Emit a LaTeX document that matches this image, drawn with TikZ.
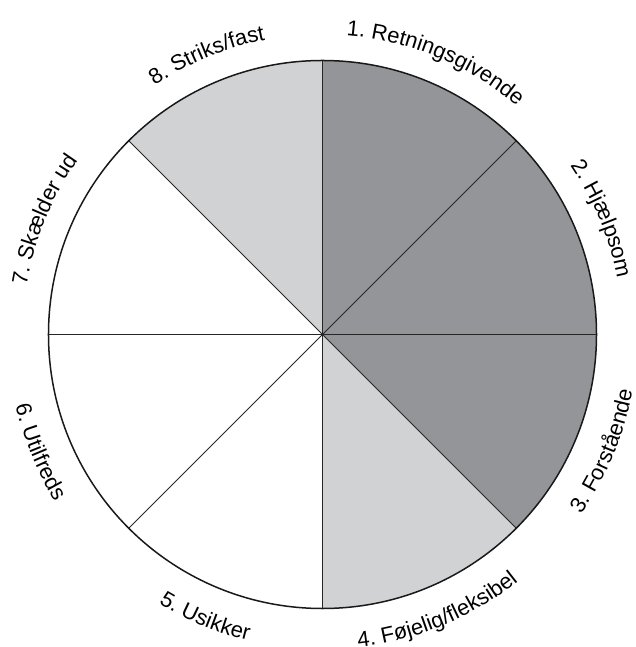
\documentclass[tikz,border=0pt]{standalone}
\usepackage{fontspec}
\setmainfont{Liberation Sans}
\usetikzlibrary{decorations.text}
\newcommand\labfont{\fontsize{22}{26}\selectfont}
\definecolor{darkseg}{RGB}{147,149,152}
\definecolor{lightseg}{RGB}{209,210,212}
\begin{document}
\begin{tikzpicture}[x=1bp,y=1bp,
  radiusline/.style={draw=black!85,line width=0.9bp},
  rim/.style={draw=black!90,line width=1.5bp},
  toplabel/.style={decorate,decoration={text along path,text align=center,text={|\labfont|#1}}},
  botlabel/.style={decorate,decoration={text along path,text align=center,text={|\labfont|#1}}}]
\useasboundingbox (-322.5,-312.5) rectangle (313.5,334.5);
\def\R{274bp}
\fill[darkseg] (0,0) -- (90:\R) arc[start angle=90,end angle=-45,radius=\R] -- cycle;
\fill[lightseg] (0,0) -- (-45:\R) arc[start angle=-45,end angle=-90,radius=\R] -- cycle;
\fill[lightseg] (0,0) -- (135:\R) arc[start angle=135,end angle=90,radius=\R] -- cycle;
\foreach \a in {0,45,...,315} \draw[radiusline] (0,0) -- (\a:\R);
\draw[rim] (0,0) circle[radius=\R];
% upper labels, clockwise
\path[toplabel={1. Retningsgivende}] (97.5:300bp) arc[start angle=97.5,end angle=37.5,radius=300bp];
\path[toplabel={2. Hjælpsom}] (52.5:300bp) arc[start angle=52.5,end angle=-7.5,radius=300bp];
\path[toplabel={7. Skælder ud}] (187.5:300bp) arc[start angle=187.5,end angle=127.5,radius=300bp];
\path[toplabel={8. Striks/fast}] (142.5:300bp) arc[start angle=142.5,end angle=82.5,radius=300bp];
% lower labels, counter-clockwise
\path[botlabel={3. Forstående}] (-52.5:315bp) arc[start angle=-52.5,end angle=7.5,radius=315bp];
\path[botlabel={4. Føjelig/fleksibel}] (-97.5:315bp) arc[start angle=-97.5,end angle=-37.5,radius=315bp];
\path[botlabel={5. Usikker}] (-142.5:315bp) arc[start angle=-142.5,end angle=-82.5,radius=315bp];
\path[botlabel={6. Utilfreds}] (-187.5:315bp) arc[start angle=-187.5,end angle=-127.5,radius=315bp];
\end{tikzpicture}
\end{document}
